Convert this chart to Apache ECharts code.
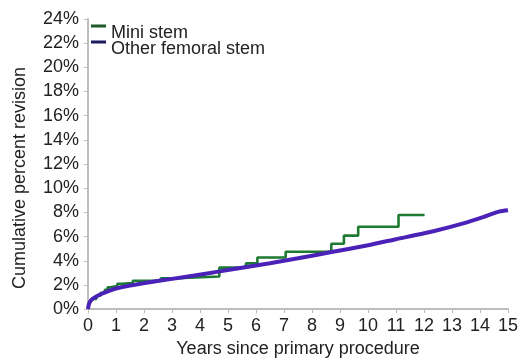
<!DOCTYPE html>
<html>
<head>
<meta charset="utf-8">
<script src="https://cdn.jsdelivr.net/npm/echarts@6/dist/echarts.min.js"></script>
<style>
  html, body { margin: 0; padding: 0; background: #fff; }
  #chart { width: 521px; height: 363px; }
</style>
</head>
<body>
<div id="chart"></div>
<script>
const FONT = '"Liberation Sans", Arial, sans-serif';

const seriesNames = ['Mini stem', 'Other femoral stem'];

// step curve for the mini stem (years, cumulative %)
const miniYears = [0, 0.03, 0.08, 0.15, 0.3, 0.45, 0.6, 0.7, 0.8, 1.05, 1.2, 1.6, 2.6, 3.2, 4.69, 5.64, 6.05, 7.06, 8.69, 9.14, 9.65, 11.09, 12.02];
const miniPct   = [0, 0.4, 0.65, 0.85, 1.1, 1.35, 1.6, 1.8, 1.9, 2.1, 2.15, 2.35, 2.55, 2.7, 3.43, 3.78, 4.27, 4.75, 5.41, 6.08, 6.81, 7.78, 7.78];

// smooth-ish curve for the other stems
const otherYears = [0, 0.02, 0.06, 0.1, 0.2, 0.33, 0.5, 0.75, 1.0, 1.5, 2.2, 3.0, 3.8, 4.6, 5.5, 6.5, 7.5, 8.7, 10, 11, 12.3, 13.5, 14.2, 14.7, 15];
const otherPct   = [0, 0.3, 0.55, 0.7, 0.9, 1.08, 1.27, 1.5, 1.7, 1.95, 2.22, 2.5, 2.78, 3.08, 3.42, 3.8, 4.2, 4.72, 5.28, 5.78, 6.42, 7.15, 7.68, 8.08, 8.18];

const zip = (xs, ys) => xs.map((x, i) => [x, ys[i]]);

const chart = echarts.init(document.getElementById('chart'), null, {renderer: 'canvas'});

// legend icon: a short line drawn at the top of a taller box, so the
// label ends up a little below the line like in the original
const lineIcon = 'path://M0,0H15V3H0Z M7,17h0.01v0.01h-0.01Z';

const axisGray = '#bdbdbd';

chart.setOption({
    animation: false,
    textStyle: {fontFamily: FONT},
    grid: {left: 88, right: 11, top: 19, bottom: 48, containLabel: false},
    legend: {
        data: [
            {name: seriesNames[0], itemStyle: {color: '#1d5a2c'}},
            {name: seriesNames[1], itemStyle: {color: '#1c1a60'}}
        ],
        orient: 'vertical',
        left: 91,
        top: 24,
        padding: 0,
        icon: lineIcon,
        itemWidth: 15,
        itemHeight: 17,
        itemGap: -2,
        selectedMode: false,
        textStyle: {fontFamily: FONT, fontSize: 18, color: '#222', lineHeight: 16}
    },
    xAxis: {
        type: 'value',
        min: 0,
        max: 15,
        interval: 1,
        name: 'Years since primary procedure',
        nameLocation: 'middle',
        nameGap: 30,
        nameTextStyle: {fontFamily: FONT, fontSize: 18, color: '#222'},
        axisLine: {lineStyle: {color: axisGray, width: 2}},
        axisTick: {show: true, length: 4, lineStyle: {color: axisGray}},
        axisLabel: {fontFamily: FONT, fontSize: 18, color: '#222', margin: 8},
        splitLine: {show: false}
    },
    yAxis: {
        type: 'value',
        min: 0,
        max: 24,
        interval: 2,
        offset: 3,
        name: 'Cumulative percent revision',
        nameLocation: 'middle',
        nameGap: 56,
        nameTextStyle: {fontFamily: FONT, fontSize: 18, color: '#222', padding: [0, 28, 0, 0]},
        axisLine: {show: true, lineStyle: {color: axisGray, width: 2}},
        axisTick: {show: true, length: 4, lineStyle: {color: axisGray}},
        axisLabel: {fontFamily: FONT, fontSize: 18, color: '#222', margin: 6, formatter: '{value}%'},
        splitLine: {show: false}
    },
    series: [
        {
            name: seriesNames[0],
            type: 'line',
            step: 'end',
            data: zip(miniYears, miniPct),
            showSymbol: false,
            lineStyle: {color: '#1e7a30', width: 2.6},
            itemStyle: {color: '#1e7a30'},
            z: 2
        },
        {
            name: seriesNames[1],
            type: 'line',
            smooth: 0.2,
            data: zip(otherYears, otherPct),
            showSymbol: false,
            lineStyle: {color: '#4a22b8', width: 4},
            itemStyle: {color: '#4a22b8'},
            z: 3
        }
    ]
});
</script>
</body>
</html>
